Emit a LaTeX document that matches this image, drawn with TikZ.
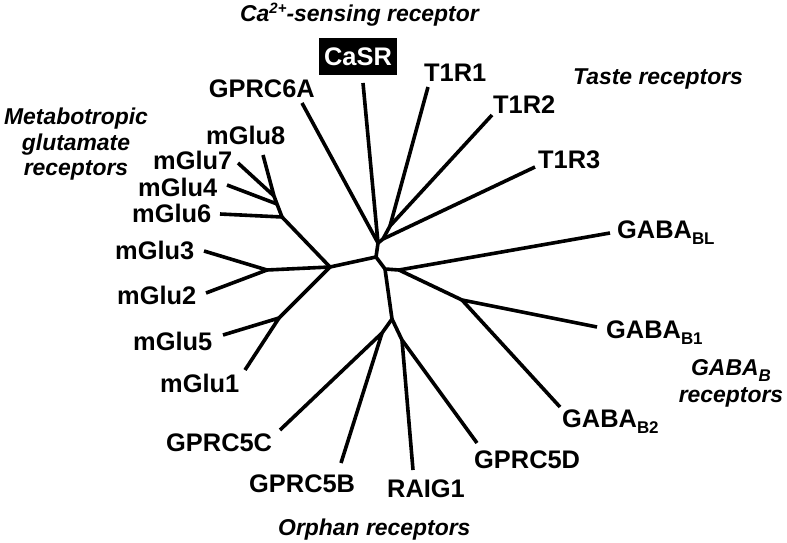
\documentclass[tikz,border=0pt]{standalone}
\usepackage{fontspec}
\setmainfont{Liberation Sans}
\newcommand{\mysub}[1]{\raisebox{-6bp}{\fontsize{17}{17}\selectfont #1}}
\newcommand{\mysup}[1]{\raisebox{8bp}{\fontsize{15}{15}\selectfont #1}}
\begin{document}
\begin{tikzpicture}[x=1bp,y=-1bp,
  branch/.style={line width=3.6bp, line join=round},
  lab/.style={inner sep=0pt, font=\bfseries\fontsize{25.5}{25.5}\selectfont},
  grp/.style={inner sep=0pt, align=center, font=\bfseries\itshape\fontsize{23}{25}\selectfont},
]
\useasboundingbox (0,0) rectangle (787,543);

% internal nodes of the tree
\coordinate (M)  at (330,267);
\coordinate (M4) at (267,270);
\coordinate (M5) at (279,318);
\coordinate (M1) at (282,217);
\coordinate (M2) at (277,204);
\coordinate (M3) at (274,196);
\coordinate (X)  at (376,257);
\coordinate (A)  at (378,243);
\coordinate (B)  at (383,239);
\coordinate (C)  at (390,226);
\coordinate (Y)  at (385,269);
\coordinate (Y2) at (399,270);
\coordinate (G)  at (462,300);
\coordinate (O)  at (392,319);
\coordinate (P)  at (382,333);
\coordinate (Q)  at (402,340);

% leaf ends
\coordinate (eGPRC6A) at (302,103);
\coordinate (eCaSR)   at (363,83);
\coordinate (eT1R1)   at (428,87);
\coordinate (eT1R2)   at (492,115);
\coordinate (eT1R3)   at (535,167);
\coordinate (eGBL)    at (610,233);
\coordinate (eGB1)    at (597,327);
\coordinate (eGB2)    at (560,407);
\coordinate (e5D)     at (477,443);
\coordinate (eRAIG)   at (413,470);
\coordinate (e5B)     at (341,463);
\coordinate (e5C)     at (280,430);
\coordinate (eG1)     at (245,370);
\coordinate (eG5)     at (223,335);
\coordinate (eG2)     at (206,293);
\coordinate (eG3)     at (204,251);
\coordinate (eG6)     at (220,214);
\coordinate (eG4)     at (227,185);
\coordinate (eG7)     at (238,163);
\coordinate (eG8)     at (263,155);

% branches
\draw[branch] (eG8) -- (M3) -- (eG7);
\draw[branch] (M3) -- (M2) -- (eG4);
\draw[branch] (M2) -- (M1) -- (eG6);
\draw[branch] (M1) -- (M);
\draw[branch] (eG3) -- (M4) -- (eG2);
\draw[branch] (M4) -- (M);
\draw[branch] (eG5) -- (M5) -- (eG1);
\draw[branch] (M5) -- (M);
\draw[branch] (M) -- (X);
\draw[branch] (X) -- (A);
\draw[branch] (eGPRC6A) -- (A) -- (eCaSR);
\draw[branch] (A) -- (B) -- (eT1R3);
\draw[branch] (B) -- (C) -- (eT1R1);
\draw[branch] (C) -- (eT1R2);
\draw[branch] (X) -- (Y) -- (Y2) -- (eGBL);
\draw[branch] (Y2) -- (G) -- (eGB1);
\draw[branch] (G) -- (eGB2);
\draw[branch] (Y) -- (O);
\draw[branch] (O) -- (P) -- (e5C);
\draw[branch] (P) -- (e5B);
\draw[branch] (O) -- (Q) -- (e5D);
\draw[branch] (Q) -- (eRAIG);

% leaf labels
\node[lab, anchor=base east] (lGPRC6A) at (315,98) {GPRC6A};
\node[lab, fill=black, text=white, minimum width=78bp, minimum height=37bp, inner sep=0pt] (lCaSR) at (358,56.5) {CaSR};
\node[lab, anchor=base west] (lT1R1) at (424,82) {T1R1};
\node[lab, anchor=base west] (lT1R2) at (493,114) {T1R2};
\node[lab, anchor=base west] (lT1R3) at (538,169) {T1R3};
\node[lab, anchor=base west] (lGBL) at (617,239) {GABA\mysub{BL}};
\node[lab, anchor=base west] (lGB1) at (606,338) {GABA\mysub{B1}};
\node[lab, anchor=base west] (lGB2) at (562,427) {GABA\mysub{B2}};
\node[lab, anchor=base west] (l5D) at (474,468) {GPRC5D};
\node[lab, anchor=base west] (lRAIG) at (387,497) {RAIG1};
\node[lab, anchor=base west] (l5B) at (249,492) {GPRC5B};
\node[lab, anchor=base west] (l5C) at (166,451) {GPRC5C};
\node[lab, anchor=base west] (lG1) at (160,392) {mGlu1};
\node[lab, anchor=base west] (lG5) at (133,350) {mGlu5};
\node[lab, anchor=base west] (lG2) at (117,305) {mGlu2};
\node[lab, anchor=base west] (lG3) at (115,260) {mGlu3};
\node[lab, anchor=base west] (lG6) at (132,223) {mGlu6};
\node[lab, anchor=base west] (lG4) at (138,197) {mGlu4};
\node[lab, anchor=base west] (lG7) at (153,170) {mGlu7};
\node[lab, anchor=base west] (lG8) at (206,145) {mGlu8};

% group labels
\node[grp, anchor=base west] (tCa) at (240,22) {Ca\mysup{2+}-sensing receptor};
\node[grp, anchor=base west] (tTaste) at (573,85) {Taste receptors};
\node[grp, anchor=base] (tGB1) at (731,375) {GABA\mysub{\itshape B}};
\node[grp, anchor=base] (tGB2) at (731,402) {receptors};
\node[grp, anchor=base west] (tOrph) at (278,535) {Orphan receptors};
\node[grp, anchor=base] (tMet1) at (76,125) {Metabotropic};
\node[grp, anchor=base] (tMet2) at (76,151) {glutamate};
\node[grp, anchor=base] (tMet3) at (76,176) {receptors};
\end{tikzpicture}
\end{document}
